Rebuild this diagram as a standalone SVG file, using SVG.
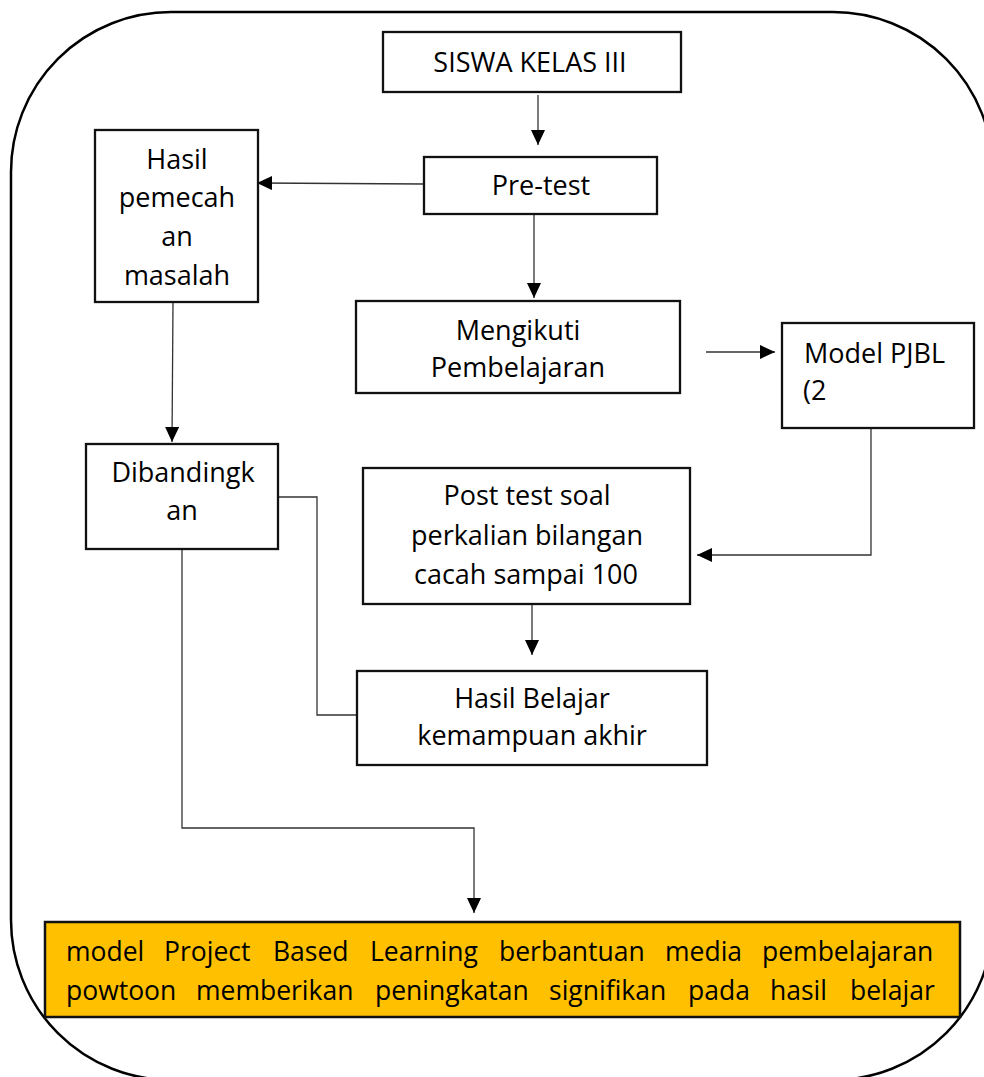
<svg xmlns="http://www.w3.org/2000/svg" width="984" height="1077" viewBox="0 0 984 1077">
<defs>
<style>
.box{fill:#fff;stroke:#111;stroke-width:2.3}
.frame{fill:#fff;stroke:#000;stroke-width:2.5}
.con{fill:none;stroke:#333;stroke-width:1.3}
.t{font-family:"Open Sans","Liberation Sans",sans-serif;font-size:27px;fill:#000}
.c{text-anchor:middle}
.b{font-family:"Open Sans","Liberation Sans",sans-serif;font-size:26.5px;fill:#000}
</style>
<marker id="ah" viewBox="0 0 15 14" refX="15" refY="7" markerWidth="15" markerHeight="14" markerUnits="userSpaceOnUse" orient="auto">
<path d="M0,0 L15,7 L0,14 z" fill="#000"/>
</marker>
</defs>
<rect id="frame" class="frame" x="11" y="12" width="982" height="1068" rx="160" ry="160"/>
<g id="connectors">
<line class="con" x1="538" y1="95" x2="538" y2="145" marker-end="url(#ah)"/>
<line class="con" x1="424" y1="184" x2="257" y2="183" marker-end="url(#ah)"/>
<line class="con" x1="534" y1="215" x2="534" y2="298" marker-end="url(#ah)"/>
<line class="con" x1="173" y1="302" x2="172" y2="442" marker-end="url(#ah)"/>
<line class="con" x1="706" y1="352" x2="775" y2="352" marker-end="url(#ah)"/>
<polyline class="con" points="871,428 871,555 697,555" marker-end="url(#ah)"/>
<line class="con" x1="532" y1="604" x2="532" y2="655" marker-end="url(#ah)"/>
<polyline class="con" points="278,497 317,497 317,715 357,715"/>
<polyline class="con" points="182,549 182,828 474,828 474,913" marker-end="url(#ah)"/>
</g>
<g id="siswa">
<rect class="box" x="383" y="32" width="298" height="60"/>
<text class="t c" x="530" y="72">SISWA KELAS III</text>
</g>
<g id="pretest">
<rect class="box" x="424" y="157" width="233" height="57"/>
<text class="t c" x="541" y="195">Pre-test</text>
</g>
<g id="hasil-pemecahan">
<rect class="box" x="95" y="130" width="163" height="172"/>
<text class="t c" x="177" y="169">Hasil</text>
<text class="t c" x="177" y="207">pemecah</text>
<text class="t c" x="177" y="246">an</text>
<text class="t c" x="177" y="285">masalah</text>
</g>
<g id="mengikuti">
<rect class="box" x="356" y="301" width="324" height="92"/>
<text class="t c" x="518" y="340">Mengikuti</text>
<text class="t c" x="518" y="377">Pembelajaran</text>
</g>
<g id="model-pjbl">
<rect class="box" x="782" y="323" width="192" height="105"/>
<text class="t" x="804" y="363">Model PJBL</text>
<text class="t" x="803" y="400">(2</text>
</g>
<g id="dibandingkan">
<rect class="box" x="86" y="444" width="192" height="105"/>
<text class="t c" x="183" y="482">Dibandingk</text>
<text class="t c" x="182" y="520">an</text>
</g>
<g id="posttest">
<rect class="box" x="363" y="468" width="327" height="136"/>
<text class="t c" x="527" y="505">Post test soal</text>
<text class="t c" x="527" y="545">perkalian bilangan</text>
<text class="t c" x="526" y="584">cacah sampai 100</text>
</g>
<g id="hasil-belajar">
<rect class="box" x="357" y="671" width="350" height="94"/>
<text class="t c" x="532" y="708">Hasil Belajar</text>
<text class="t c" x="532" y="745">kemampuan akhir</text>
</g>
<g id="kesimpulan">
<rect x="45" y="922" width="915" height="95" fill="#FFC000" stroke="#111" stroke-width="2.5"/>
<text class="b" y="961"><tspan x="66">model</tspan><tspan x="164">Project</tspan><tspan x="273">Based</tspan><tspan x="370">Learning</tspan><tspan x="499">berbantuan</tspan><tspan x="665">media</tspan><tspan x="762">pembelajaran</tspan></text>
<text class="b" y="1000"><tspan x="66">powtoon</tspan><tspan x="196">memberikan</tspan><tspan x="375">peningkatan</tspan><tspan x="549">signifikan</tspan><tspan x="688">pada</tspan><tspan x="770">hasil</tspan><tspan x="850">belajar</tspan></text>
</g>
</svg>
